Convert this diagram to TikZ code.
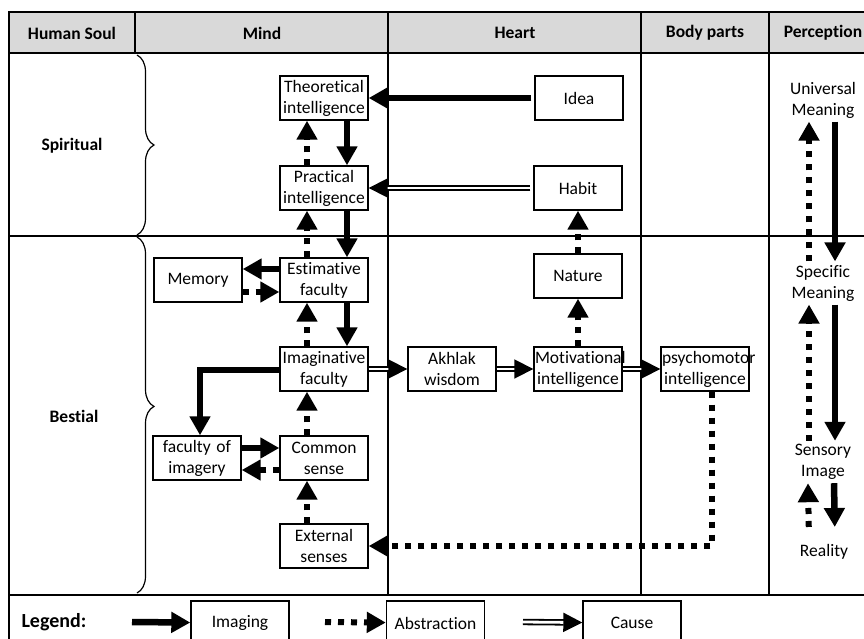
\documentclass[tikz,border=0pt]{standalone}
\usepackage{fontspec}
\setmainfont{Carlito}[Ligatures=NoCommon]
\usetikzlibrary{arrows.meta,decorations.pathreplacing}
\begin{document}
\begin{tikzpicture}[x=1pt, y=-1pt, font=\fontsize{17.5}{21}\selectfont,
    rule/.style={line width=1.2pt},
    box/.style={draw, line width=1.4pt, fill=white, text width=86pt, inner xsep=1pt, inner ysep=0pt, minimum height=44pt, align=center},
    legbox/.style={box, text width=96pt},
    head/.style={font=\fontsize{17.5}{21}\selectfont\bfseries},
    imaging/.style={line width=6.5pt, -{Triangle[length=19pt,width=20pt]}},
    abstraction/.style={line width=6pt, dash pattern=on 6pt off 7pt, -{Triangle[length=19pt,width=20pt]}},
    cause/.style={double, line width=1.8pt, double distance=2.8pt, -{Triangle[length=19pt,width=19pt]}}]
    \clip (0,0) rectangle (864,639);
    \fill[white] (0,0) rectangle (864,639);
    % table
    \fill[black!15] (9,12) rectangle (870,53);
    \draw[rule] (870,12) -- (9,12) -- (9,650) (135,12) -- (135,53)
        (9,53) -- (870,53) (9,236) -- (870,236) (9,595) -- (870,595);
    \foreach \x in {388,641,769} \draw[rule] (\x,12) -- (\x,595);
    \node[head] (hsoul) at (72,33) {Human Soul};
    \node[head] (hmind) at (262,33) {Mind};
    \node[head] (hheart) at (515,33) {Heart};
    \node[head] (hbody) at (705,33) {Body parts};
    \node[head] (hperc) at (823,33) {Perception};
    \node[head] (spirit) at (72,146) {Spiritual};
    \node[head] (bestial) at (74,416) {Bestial};
    \draw[line width=1.2pt, decorate, decoration={brace, amplitude=17pt}] (137,55) -- (137,235);
    \draw[line width=1.2pt, decorate, decoration={brace, amplitude=17pt, aspect=.476}] (137,237) -- (137,593);
    % mind
    \node[box] (theo) at (324,98) {Theoretical\\intelligence};
    \node[box] (prac) at (324,188) {Practical\\intelligence};
    \node[box] (mem) at (198,280) {Memory};
    \node[box] (est) at (324,280) {Estimative\\faculty};
    \node[box] (imag) at (324,369) {Imaginative\\faculty};
    \node[box] (fim) at (197,458) {faculty of\\imagery};
    \node[box] (com) at (324,458) {Common\\sense};
    \node[box] (ext) at (324,546) {External\\senses};
    % heart and body
    \node[box] (idea) at (579,98) {Idea};
    \node[box] (habit) at (578,188) {Habit};
    \node[box] (nat) at (578,276) {Nature};
    \node[box] (akh) at (452,369) {Akhlak\\wisdom};
    \node[box] (mot) at (578,369) {Motivational\\intelligence};
    \node[box] (psy) at (705,369) {psychomotor\\intelligence};
    % perception
    \node[align=center] (univ) at (823,100) {Universal\\Meaning};
    \node[align=center] (spec) at (823,283) {Specific\\Meaning};
    \node[align=center] (sens) at (823,462) {Sensory\\Image};
    \node (real) at (824,552) {Reality};

    \draw[imaging, shorten <=3pt] (idea) -- (theo);
    \draw[cause, shorten <=3pt] (habit) -- (prac);
    \foreach \a/\b in {theo/prac,prac/est,est/imag}{
        \draw[imaging] ([xshift=23pt]\a.south) -- ([xshift=23pt]\b.north);
        \draw[abstraction] ([xshift=-17pt]\b.north) -- ([xshift=-17pt]\a.south);
    }
    \draw[abstraction] ([xshift=-17pt]com.north) -- ([xshift=-17pt]imag.south);
    \draw[abstraction] ([xshift=-17pt]ext.north) -- ([xshift=-17pt]com.south);
    \draw[imaging] ([yshift=11pt]est.west) -- ([yshift=11pt]mem.east);
    \draw[abstraction] ([yshift=-12pt]mem.east) -- ([yshift=-12pt]est.west);
    \draw[imaging] ([yshift=-1pt]imag.west) -| ([xshift=3pt]fim.north);
    \draw[imaging] ([yshift=10pt]fim.east) -- ([yshift=10pt]com.west);
    \draw[abstraction] ([yshift=-12pt]com.west) -- ([yshift=-12pt]fim.east);
    \draw[cause] (imag) -- (akh);
    \draw[cause] (akh) -- (mot);
    \draw[cause] (mot) -- (psy);
    \draw[abstraction] (mot) -- (nat);
    \draw[abstraction] (nat) -- (habit);
    \draw[abstraction] ([xshift=7pt]psy.south) |- (ext);
    \draw[abstraction] ([xshift=-14pt]spec.north) -- ([xshift=-14pt]univ.south);
    \draw[imaging] ([xshift=12pt]univ.south) -- ([xshift=12pt]spec.north);
    \draw[abstraction] ([xshift=-14pt]sens.north) -- ([xshift=-14pt]spec.south);
    \draw[imaging] ([xshift=12pt]spec.south) -- ([xshift=12pt]sens.north);
    \draw[abstraction, shorten <=14pt] ([xshift=-15pt]real.north) -- ([xshift=-15pt]sens.south);
    \draw[imaging, shorten >=14pt] ([xshift=11pt]sens.south) -- ([xshift=11pt]real.north);
    % legend
    \node[head, font=\fontsize{20}{24}\selectfont\bfseries, anchor=west] (leg) at (18,622) {Legend:};
    \node[legbox] (limg) at (240,623) {Imaging};
    \node[legbox] (labs) at (435.5,623) {Abstraction};
    \node[legbox] (lcau) at (632,623) {Cause};
    \coordinate (limgs) at (132,622);
    \coordinate (labss) at (325,622);
    \coordinate (lcaus) at (523,622);
    \draw[imaging] (limgs) -- (limg);
    \draw[abstraction] (labss) -- (labs);
    \draw[cause] (lcaus) -- (lcau);
\end{tikzpicture}
\end{document}
